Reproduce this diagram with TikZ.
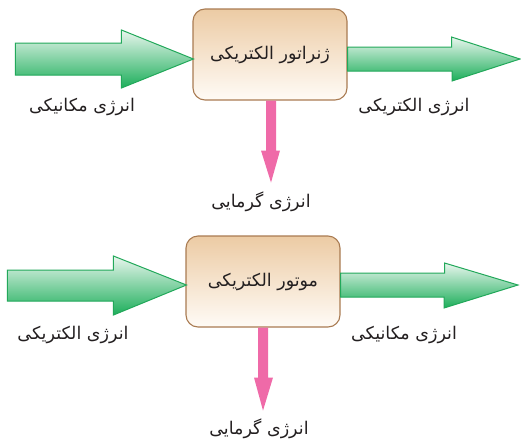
\documentclass[tikz,border=0pt]{standalone}
\usepackage{fontspec}
\TeXXeTstate=1
\newfontfamily\arabicfont[Script=Arabic]{DejaVu Sans}
\usetikzlibrary{calc}
\definecolor{grn}{HTML}{22A85A}
\definecolor{grnlt}{HTML}{E9F6EE}
\definecolor{grndk}{HTML}{1CAE5A}
\definecolor{pnk}{HTML}{EF6AA8}
\definecolor{boxtop}{HTML}{ECCBA4}
\definecolor{boxbot}{HTML}{FFFBF6}
\definecolor{boxline}{HTML}{A97B52}
\definecolor{txt}{HTML}{231F20}
\newcommand{\fa}[1]{{\arabicfont\beginR #1\endR}}
\tikzset{
  devbox/.style={draw=boxline, line width=1.1pt, rounded corners=12pt,
    top color=boxtop, bottom color=boxbot, minimum width=154pt, minimum height=91pt,
    font=\fontsize{17.5}{20}\selectfont, text=txt, inner sep=0pt},
  grnarrow/.style={draw=grn, line width=1pt, top color=grnlt, bottom color=grndk, line join=miter},
  pnkarrow/.style={fill=pnk, draw=none},
  lbl/.style={font=\fontsize{17.5}{20}\selectfont, text=txt, inner sep=0pt}
}
\begin{document}
\begin{tikzpicture}[x=1pt,y=-1pt]
\useasboundingbox (0,0) rectangle (521,442);
% generator
\node[devbox] (gen) at (270,54.5) {\fa{ژنراتور الکتریکی}};
\coordinate (g-in) at ($(gen.west)+(1,4.5)$);
\coordinate (g-out) at ($(gen.east)+(0,4.5)$);
\coordinate (g-heat) at (gen.south -| 271,0);
\path[grnarrow] (g-in) -- ++(-72,-29) -- ++(0,13) -- ++(-106,0) -- ++(0,32) -- ++(106,0) -- ++(0,13) -- cycle;
\path[grnarrow] (g-out) ++(0,-12) -- ++(104,0) -- ++(0,-10) -- (520,59) -- (452,81) -- ++(0,-10) -- ($(g-out)+(0,12)$) -- cycle;
\path[pnkarrow] ($(g-heat)+(-5,0)$) -- ++(10,0) -- ++(0,50) -- ++(4,0) -- ++(-9,32) -- ++(-10,-32) -- ++(5,0) -- cycle;
% motor
\node[devbox] (mot) at (263,281.5) {\fa{موتور الکتریکی}};
\coordinate (m-in) at ($(mot.west)+(1,3.5)$);
\coordinate (m-out) at ($(mot.east)+(0,3.5)$);
\coordinate (m-heat) at (mot.south -| 263,0);
\path[grnarrow] (m-in) -- ++(-73,-29) -- ++(0,14) -- ++(-106,0) -- ++(0,31) -- ++(106,0) -- ++(0,14) -- cycle;
\path[grnarrow] (m-out) ++(0,-12) -- ++(104,0) -- ++(0,-10) -- (518,285) -- (444,308) -- ++(0,-11) -- ($(m-out)+(0,12)$) -- cycle;
\path[pnkarrow] ($(m-heat)+(-5,0)$) -- ++(10,0) -- ++(0,50) -- ++(5,0) -- ++(-10,33) -- ++(-9,-33) -- ++(4,0) -- cycle;
% labels
\node[lbl] (g-l1) at (82,107) {\fa{انرژی مکانیکی}};
\node[lbl] (g-l2) at (414,107) {\fa{انرژی الکتریکی}};
\node[lbl] (g-l3) at (261,202) {\fa{انرژی گرمایی}};
\node[lbl] (m-l1) at (73,335) {\fa{انرژی الکتریکی}};
\node[lbl] (m-l2) at (404,335) {\fa{انرژی مکانیکی}};
\node[lbl] (m-l3) at (259,429) {\fa{انرژی گرمایی}};
\end{tikzpicture}
\end{document}
